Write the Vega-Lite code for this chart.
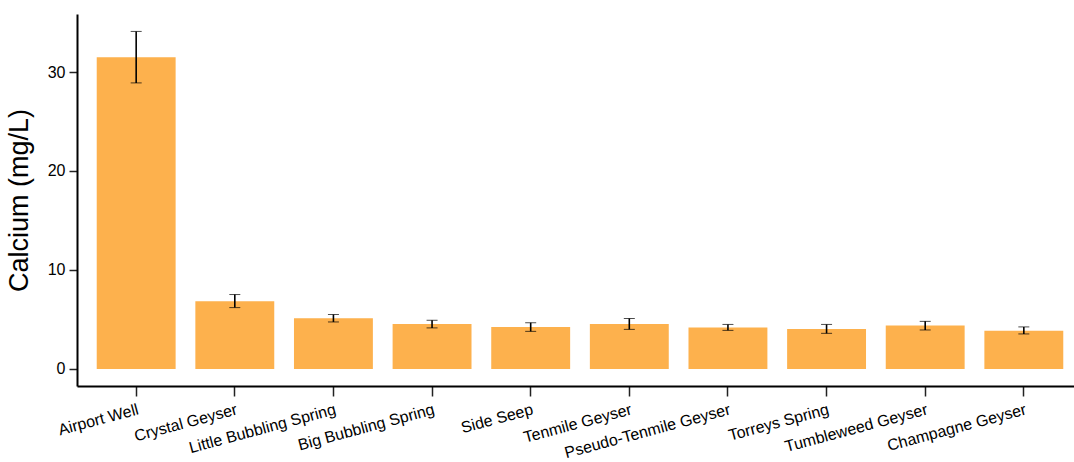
{
  "$schema": "https://vega.github.io/schema/vega-lite/v6.json",
  "width": 997,
  "height": 372,
  "autosize": {"type": "none"},
  "padding": {"left": 77, "top": 14, "right": 0, "bottom": 76},
  "background": "white",
  "config": {
    "view": {"stroke": null},
    "font": "Liberation Sans",
    "axis": {"grid": false, "domainColor": "black", "domainWidth": 2, "tickColor": "#222", "tickWidth": 1.5, "labelColor": "black", "titleColor": "black", "labelFont": "Liberation Sans", "titleFont": "Liberation Sans"}
  },
  "data": {
    "values": [
      {"site": "Airport Well", "calcium": 31.5, "lower": 28.9, "upper": 34.1},
      {"site": "Crystal Geyser", "calcium": 6.85, "lower": 6.2, "upper": 7.52},
      {"site": "Little Bubbling Spring", "calcium": 5.12, "lower": 4.75, "upper": 5.5},
      {"site": "Big Bubbling Spring", "calcium": 4.55, "lower": 4.15, "upper": 4.92},
      {"site": "Side Seep", "calcium": 4.24, "lower": 3.8, "upper": 4.67},
      {"site": "Tenmile Geyser", "calcium": 4.55, "lower": 4.0, "upper": 5.1},
      {"site": "Pseudo-Tenmile Geyser", "calcium": 4.2, "lower": 3.9, "upper": 4.5},
      {"site": "Torreys Spring", "calcium": 4.04, "lower": 3.6, "upper": 4.5},
      {"site": "Tumbleweed Geyser", "calcium": 4.38, "lower": 3.94, "upper": 4.81},
      {"site": "Champagne Geyser", "calcium": 3.87, "lower": 3.54, "upper": 4.25}
    ]
  },
  "encoding": {
    "x": {
      "field": "site",
      "type": "nominal",
      "sort": null,
      "scale": {"type": "band", "paddingInner": 0.2, "paddingOuter": 0.2, "range": [0, 1006]},
      "axis": {"title": null, "labelAngle": -15, "labelAlign": "right", "labelBaseline": "top", "labelFontSize": 16, "tickSize": 10, "labelPadding": 5}
    }
  },
  "layer": [
    {
      "mark": {"type": "bar", "color": "#FDB14D"},
      "encoding": {
        "y": {
          "field": "calcium",
          "type": "quantitative",
          "title": "Calcium (mg/L)",
          "scale": {"domain": [-1.72, 35.86], "nice": false, "zero": false},
          "axis": {"title": "Calcium (mg/L)", "values": [0, 10, 20, 30], "labelFontSize": 16, "tickSize": 8, "labelPadding": 4, "titleFontSize": 27, "titleFontWeight": "normal", "titlePadding": 14}
        }
      }
    },
    {
      "mark": {"type": "errorbar", "ticks": {"size": 11, "color": "black", "strokeWidth": 1.6}, "rule": {"color": "black", "strokeWidth": 1.6}},
      "encoding": {
        "y": {"field": "lower", "type": "quantitative", "title": "Calcium (mg/L)"},
        "y2": {"field": "upper"}
      }
    }
  ]
}
